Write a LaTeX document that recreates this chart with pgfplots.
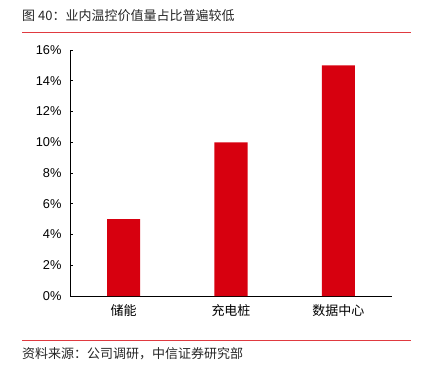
\documentclass[border=0pt]{standalone}
\usepackage{pgfplots}
\pgfplotsset{compat=1.18}
\usepackage{fontspec}
\setmainfont{Liberation Sans}
\newfontfamily\cjk{Noto Sans CJK SC}
\definecolor{barred}{HTML}{D7000F}
\definecolor{linered}{HTML}{E03A40}
\begin{document}
\begin{tikzpicture}[x=1pt,y=1pt]
\useasboundingbox (0,-369) rectangle (423,0);
\node[anchor=west,inner sep=0pt,font=\cjk\fontsize{13}{15}\selectfont,text=black!85] at (22,-16) {图 40：业内温控价值量占比普遍较低};
\draw[linered,line width=1pt] (22,-33) -- (411,-33);
\node[anchor=west,inner sep=0pt,font=\cjk\fontsize{13}{15}\selectfont,text=black!85] at (22,-354) {资料来源：公司调研，中信证券研究部};
\draw[linered,line width=1pt] (22,-340) -- (411,-340);
\begin{axis}[
  at={(70pt,-296pt)}, anchor=south west,
  scale only axis, width=322pt, height=246pt,
  xmin=-0.5, xmax=2.5, ymin=0, ymax=16,
  axis x line*=bottom, axis y line*=left,
  axis line style={line width=0.8pt, -},
  xtick={0,1,2}, xticklabels={储能,充电桩,数据中心},
  x tick label style={font=\cjk\fontsize{13}{15}\selectfont, yshift=-2pt},
  xtick style={draw=none},
  ytick={0,2,...,16},
  yticklabel={\pgfmathprintnumber{\tick}\%},
  y tick label style={font=\fontsize{12.8}{14}\selectfont, xshift=-5pt},
  /pgf/number format/assume math mode=true,
  ytick style={line width=0.8pt, black},
  tick align=inside, major tick length=3pt,
  ybar, bar width=33pt,
]
\addplot[fill=barred, draw=none] coordinates {(0,5) (1,10) (2,15)};
\end{axis}
\end{tikzpicture}
\end{document}
